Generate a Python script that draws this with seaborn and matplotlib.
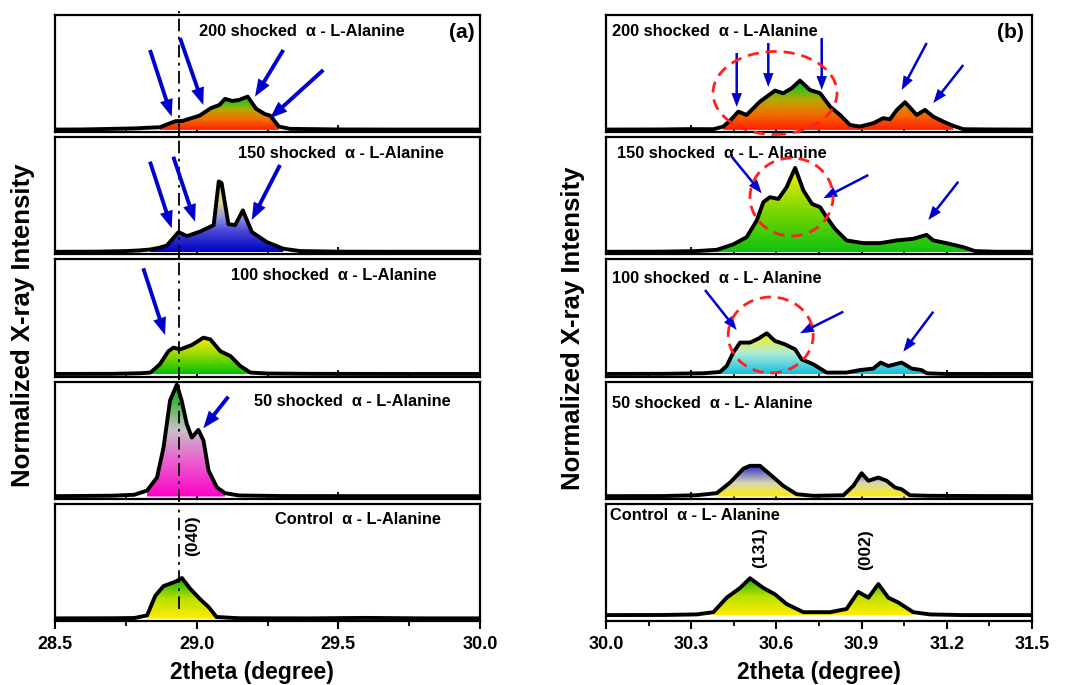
import numpy as np
import matplotlib
matplotlib.use('Agg')
import matplotlib.pyplot as plt
import seaborn as sns
from matplotlib.colors import LinearSegmentedColormap
from matplotlib.patches import Ellipse, FancyArrowPatch
from matplotlib.ticker import MultipleLocator

sns.set_theme(style='white')
plt.rcParams['font.family'] = ['Liberation Sans', 'DejaVu Sans']
plt.rcParams['font.weight'] = 'bold'
plt.rcParams['text.color'] = 'black'
plt.rcParams['axes.labelcolor'] = 'black'
plt.rcParams['xtick.color'] = 'black'
plt.rcParams['ytick.color'] = 'black'

# ---------------- data (normalized intensity) ----------------
# panel (a)
a200_x = [28.50, 28.60, 28.70, 28.78, 28.83, 28.87, 28.90, 28.925, 28.95, 29.01, 29.05, 29.08, 29.10,
          29.125, 29.15, 29.18, 29.21, 29.24, 29.26, 29.29, 29.33, 29.40, 29.50, 29.70, 30.00]
a200_y = [0.003, 0.004, 0.009, 0.013, 0.019, 0.023, 0.052, 0.076, 0.078, 0.124, 0.189, 0.217, 0.270,
          0.252, 0.261, 0.290, 0.183, 0.139, 0.124, 0.029, 0.009, 0.007, 0.004, 0.003, 0.003]

a150_x = [28.50, 28.65, 28.75, 28.80, 28.837, 28.87, 28.895, 28.936, 28.966, 29.013, 29.045, 29.06,
          29.078, 29.088, 29.112, 29.136, 29.163, 29.195, 29.248, 29.306, 29.365, 29.50, 29.70, 30.00]
a150_y = [0.003, 0.004, 0.009, 0.015, 0.023, 0.039, 0.058, 0.174, 0.139, 0.180, 0.217, 0.235,
          0.615, 0.600, 0.243, 0.235, 0.363, 0.174, 0.087, 0.029, 0.009, 0.004, 0.003, 0.003]

a100_x = [28.50, 28.70, 28.80, 28.837, 28.87, 28.90, 28.918, 28.942, 28.983, 29.024, 29.048, 29.084,
          29.119, 29.154, 29.19, 29.25, 29.40, 29.70, 30.00]
a100_y = [0.003, 0.004, 0.009, 0.015, 0.087, 0.200, 0.232, 0.217, 0.255, 0.319, 0.304, 0.200,
          0.159, 0.072, 0.015, 0.007, 0.004, 0.003, 0.003]

a50_x = [28.50, 28.70, 28.78, 28.825, 28.86, 28.883, 28.906, 28.93, 28.947, 28.965, 28.983, 29.006,
         29.024, 29.042, 29.071, 29.10, 29.15, 29.30, 29.60, 30.00]
a50_y = [0.003, 0.007, 0.015, 0.052, 0.165, 0.426, 0.835, 0.974, 0.835, 0.632, 0.513, 0.580,
         0.487, 0.226, 0.081, 0.029, 0.009, 0.004, 0.003, 0.003]

actl_x = [28.50, 28.70, 28.78, 28.825, 28.854, 28.883, 28.925, 28.948, 28.977, 29.013, 29.042, 29.07,
          29.15, 29.40, 29.60, 29.80, 30.00]
actl_y = [0.003, 0.004, 0.006, 0.029, 0.200, 0.284, 0.322, 0.354, 0.261, 0.168, 0.102, 0.015,
          0.004, 0.003, 0.007, 0.003, 0.003]

# panel (b)
b200_x = [30.0, 30.2, 30.3, 30.378, 30.413, 30.437, 30.466, 30.495, 30.542, 30.595, 30.624, 30.654,
          30.683, 30.718, 30.754, 30.789, 30.824, 30.859, 30.894, 30.941, 30.976, 31.0, 31.024, 31.053,
          31.094, 31.123, 31.152, 31.188, 31.223, 31.258, 31.35, 31.5]
b200_y = [0.003, 0.004, 0.007, 0.006, 0.029, 0.081, 0.159, 0.130, 0.246, 0.342, 0.319, 0.363,
          0.429, 0.348, 0.319, 0.203, 0.130, 0.043, 0.029, 0.058, 0.102, 0.093, 0.174, 0.241,
          0.130, 0.174, 0.116, 0.072, 0.035, 0.006, 0.004, 0.003]

b150_x = [30.0, 30.2, 30.319, 30.39, 30.448, 30.495, 30.531, 30.554, 30.577, 30.607, 30.636, 30.666,
          30.695, 30.725, 30.754, 30.777, 30.806, 30.847, 30.906, 30.965, 31.024, 31.082, 31.129,
          31.152, 31.199, 31.258, 31.299, 31.375, 31.5]
b150_y = [0.003, 0.004, 0.009, 0.020, 0.067, 0.130, 0.276, 0.435, 0.478, 0.463, 0.565, 0.733,
          0.537, 0.420, 0.391, 0.304, 0.203, 0.102, 0.078, 0.078, 0.102, 0.116, 0.150,
          0.102, 0.078, 0.043, 0.009, 0.003, 0.003]

b100_x = [30.0, 30.2, 30.343, 30.401, 30.425, 30.448, 30.472, 30.507, 30.536, 30.566, 30.595, 30.63,
          30.666, 30.689, 30.73, 30.777, 30.847, 30.894, 30.941, 30.967, 30.994, 31.041, 31.076,
          31.111, 31.129, 31.199, 31.5]
b100_y = [0.003, 0.004, 0.009, 0.020, 0.072, 0.189, 0.276, 0.276, 0.310, 0.357, 0.290, 0.261,
          0.217, 0.130, 0.087, 0.015, 0.015, 0.037, 0.050, 0.102, 0.072, 0.102, 0.050,
          0.037, 0.009, 0.003, 0.003]

b50_x = [30.0, 30.2, 30.319, 30.39, 30.437, 30.484, 30.507, 30.542, 30.577, 30.624, 30.671, 30.73,
         30.836, 30.871, 30.90, 30.924, 30.959, 30.988, 31.018, 31.041, 31.07, 31.141, 31.3, 31.5]
b50_y = [0.003, 0.004, 0.011, 0.029, 0.122, 0.243, 0.267, 0.267, 0.194, 0.093, 0.020, 0.006,
         0.011, 0.093, 0.203, 0.137, 0.165, 0.137, 0.078, 0.063, 0.011, 0.006, 0.004, 0.003]

bctl_x = [30.0, 30.2, 30.319, 30.378, 30.425, 30.472, 30.507, 30.554, 30.595, 30.636, 30.695, 30.789,
          30.847, 30.888, 30.924, 30.959, 30.994, 31.029, 31.082, 31.141, 31.258, 31.5]
bctl_y = [0.003, 0.004, 0.009, 0.029, 0.159, 0.246, 0.333, 0.246, 0.189, 0.102, 0.029, 0.029,
          0.058, 0.211, 0.159, 0.281, 0.159, 0.116, 0.029, 0.009, 0.003, 0.003]

titles_a = ["200 shocked  \u03b1 - L-Alanine", "150 shocked  \u03b1 - L-Alanine",
            "100 shocked  \u03b1 - L-Alanine", "50 shocked  \u03b1 - L-Alanine",
            "Control  \u03b1 - L-Alanine"]
titles_b = ["200 shocked  \u03b1 - L-Alanine", "150 shocked  \u03b1 - L- Alanine",
            "100 shocked  \u03b1 - L- Alanine", "50 shocked  \u03b1 - L- Alanine",
            "Control  \u03b1 - L- Alanine"]
xticks_a = [28.5, 29.0, 29.5, 30.0]
xticks_b = [30.0, 30.3, 30.6, 30.9, 31.2, 31.5]

# ---------------- styling ----------------
def cm(stops):
    return LinearSegmentedColormap.from_list('g', stops)


red_green = cm([(0, '#ff1e00'), (0.3, '#f46a00'), (0.6, '#b8a800'), (0.85, '#30c020'), (1, '#20c020')])
series_a = [
    (a200_x, a200_y, (28.86, 29.30), red_green),
    (a150_x, a150_y, (28.83, 29.31), cm([(0, '#0000c0'), (0.3, '#4848d8'), (0.5, '#9898e0'),
                                         (0.7, '#e0d890'), (1, '#f5e830')])),
    (a100_x, a100_y, (28.83, 29.19), cm([(0, '#00c000'), (0.5, '#90d800'), (1, '#ffee00')])),
    (a50_x, a50_y, (28.80, 29.10), cm([(0, '#ff00c8'), (0.35, '#e868d0'), (0.6, '#c8c0c8'),
                                       (0.85, '#40b840'), (1, '#10b010')])),
    (actl_x, actl_y, (28.82, 29.07), cm([(0, '#ffee00'), (0.5, '#b8e000'), (1, '#10b010')])),
]
series_b = [
    (b200_x, b200_y, (30.40, 31.25), red_green),
    (b150_x, b150_y, (30.385, 31.30), cm([(0, '#10c010'), (0.5, '#80d800'), (1, '#ffee00')])),
    (b100_x, b100_y, (30.40, 31.14), cm([(0, '#10c0e0'), (0.5, '#b0ecd8'), (1, '#ffee00')])),
    (b50_x, b50_y, (30.38, 31.08), cm([(0, '#ffee00'), (0.45, '#d8d8b0'), (1, '#3030d0')])),
    (bctl_x, bctl_y, (30.37, 31.10), cm([(0, '#ffee00'), (0.5, '#b8e000'), (1, '#10b010')])),
]

W, H = 1069, 685
fig = plt.figure(figsize=(W / 100, H / 100), dpi=100)
fig.patch.set_facecolor('white')


def fx(px):
    return px / W


def fy(py):
    return 1 - py / H


row_h, gap, top0 = 117.2, 5.0, 15.0


def make_ax(x0, x1, i):
    t = top0 + i * (row_h + gap)
    b = t + row_h
    return fig.add_axes([fx(x0), fy(b), fx(x1) - fx(x0), row_h / H])


def grad_fill(ax, xs, ys, rng, cmap):
    xs = np.asarray(xs)
    ys = np.asarray(ys)
    mask = (xs >= rng[0]) & (xs <= rng[1])
    coll = ax.fill_between(xs, 0, ys, where=mask, color='none', lw=0)
    ymax = ys[mask].max()
    grad = np.linspace(0, 1, 256).reshape(-1, 1)
    im = ax.imshow(grad, cmap=cmap, aspect='auto', origin='lower',
                   extent=[rng[0] - 0.02, rng[1] + 0.02, 0, ymax], zorder=1, interpolation='bilinear')
    im.set_clip_path(coll.get_paths()[0], transform=ax.transData)


def style_ax(ax, xlim, ylim, minor, ticks, bottom):
    ax.set_xlim(*xlim)
    ax.set_ylim(*ylim)
    ax.set_yticks([])
    ax.set_xticks(ticks)
    ax.xaxis.set_minor_locator(MultipleLocator(minor))
    for s in ax.spines.values():
        s.set_linewidth(1.6)
        s.set_color('black')
    ax.set_xlabel('')
    ax.set_ylabel('')
    if bottom:
        ax.tick_params(axis='x', which='major', direction='out', length=6, width=1.5,
                       labelsize=13, pad=5, bottom=True, colors='black')
        ax.tick_params(axis='x', which='minor', direction='out', length=3.5, width=1.3, bottom=True)
        ax.set_xticklabels([f"{t:.1f}" for t in ticks], fontweight='bold')
    else:
        ax.tick_params(axis='x', which='major', direction='in', length=5, width=1.3,
                       labelbottom=False, bottom=True)
        ax.tick_params(axis='x', which='minor', direction='in', length=3, width=1.1, bottom=True)


dashdot = (0, (7, 3, 1.5, 3))
for i in range(5):
    ax = make_ax(55, 480, i)
    xs, ys, rng, cmap = series_a[i]
    grad_fill(ax, xs, ys, rng, cmap)
    sns.lineplot(x=xs, y=ys, ax=ax, color='black', lw=2.8, estimator=None, sort=False, legend=False, zorder=3)
    style_ax(ax, (28.5, 30.0), (-0.02, 1.0), 0.25, xticks_a, i == 4)
    if i < 4:
        ax.axvline(28.936, ymin=-0.03, ymax=1.03, color='black', lw=1.3, ls=dashdot, clip_on=False, zorder=4)
    else:
        ax.axvline(28.936, ymin=0.1, ymax=1.0, color='black', lw=1.3, ls=dashdot, zorder=4)

for i in range(5):
    ax = make_ax(606, 1032, i)
    xs, ys, rng, cmap = series_b[i]
    grad_fill(ax, xs, ys, rng, cmap)
    sns.lineplot(x=xs, y=ys, ax=ax, color='black', lw=2.8, estimator=None, sort=False, legend=False, zorder=3)
    style_ax(ax, (30.0, 31.5), (-0.05 if i == 4 else -0.02, 1.0), 0.15, xticks_b, i == 4)

# ---------------- texts ----------------
ta_pos = [(302, 31), (341, 153), (334, 275), (352, 402), (358, 519)]
for t, (px, py) in zip(titles_a, ta_pos):
    fig.text(fx(px), fy(py), t, ha='center', va='center', fontsize=11.8, fontweight='bold')
tb_pos = [(612, 32), (617, 153), (612, 278), (612, 404), (610, 515)]
for t, (px, py) in zip(titles_b, tb_pos):
    fig.text(fx(px), fy(py), t, ha='left', va='center', fontsize=11.8, fontweight='bold')

fig.text(fx(462), fy(33), '(a)', ha='center', va='center', fontsize=15, fontweight='bold')
fig.text(fx(1010), fy(33), '(b)', ha='center', va='center', fontsize=15, fontweight='bold')

fig.text(fx(193), fy(536), '(040)', rotation=90, ha='center', va='center', fontsize=12.5, fontweight='bold')
fig.text(fx(760), fy(548), '(131)', rotation=90, ha='center', va='center', fontsize=12.5, fontweight='bold')
fig.text(fx(866), fy(550), '(002)', rotation=90, ha='center', va='center', fontsize=12.5, fontweight='bold')

fig.text(fx(23), fy(325), 'Normalized X-ray Intensity', rotation=90, ha='center', va='center',
         fontsize=18.5, fontweight='bold')
fig.text(fx(573), fy(328), 'Normalized X-ray Intensity', rotation=90, ha='center', va='center',
         fontsize=18.5, fontweight='bold')
fig.text(fx(252), fy(672), '2theta (degree)', ha='center', va='center', fontsize=16.5, fontweight='bold')
fig.text(fx(819), fy(672), '2theta (degree)', ha='center', va='center', fontsize=16.5, fontweight='bold')

# ---------------- arrows & circles ----------------
blue = '#0000cc'
arrows_a = [((150, 50), (171.7, 116.7)), ((180, 38), (203.3, 105)), ((283.3, 50), (255, 96.7)),
            ((323.3, 70), (270, 118.3)),
            ((150, 161.7), (171.7, 228.3)), ((173.3, 156.7), (195, 221.7)), ((280, 165), (251.7, 220)),
            ((143.3, 268.3), (165, 335)),
            ((228.3, 396.7), (203.3, 428.3))]
arrows_b = [((736.7, 53), (736.7, 107)), ((768.3, 43), (768.3, 87)), ((821.7, 38), (821.7, 90)),
            ((926.7, 43), (901.7, 90)), ((963.3, 65), (933.3, 103)),
            ((731.7, 156.7), (761.7, 193.3)), ((868.3, 175), (823.3, 198.3)), ((958.3, 181.7), (928.3, 220)),
            ((705, 290), (736.7, 330)), ((843.3, 311.7), (800, 333.3)), ((933.3, 311.7), (903.3, 351.7))]

for (p0, p1) in arrows_a:
    fig.add_artist(FancyArrowPatch((fx(p0[0]), fy(p0[1])), (fx(p1[0]), fy(p1[1])),
                                   transform=fig.transFigure, shrinkA=0, shrinkB=0,
                                   arrowstyle='simple,head_length=1.25,head_width=0.95,tail_width=0.28',
                                   mutation_scale=10, facecolor=blue, edgecolor='none', zorder=5))
for (p0, p1) in arrows_b:
    fig.add_artist(FancyArrowPatch((fx(p0[0]), fy(p0[1])), (fx(p1[0]), fy(p1[1])),
                                   transform=fig.transFigure, shrinkA=0, shrinkB=0,
                                   arrowstyle='simple,head_length=1.0,head_width=0.75,tail_width=0.18',
                                   mutation_scale=10, facecolor=blue, edgecolor='none', zorder=5))

circles = [((775, 93), 124, 83), ((791.5, 197), 83, 78), ((770.7, 335), 85, 76)]
for (c, w, h) in circles:
    fig.add_artist(Ellipse((fx(c[0]), fy(c[1])), w / W, h / H, transform=fig.transFigure,
                           fill=False, edgecolor='#ff2020', lw=2.0, ls=(0, (4, 2.5)), zorder=5))

fig.savefig('out.png', dpi=100, facecolor='white')
